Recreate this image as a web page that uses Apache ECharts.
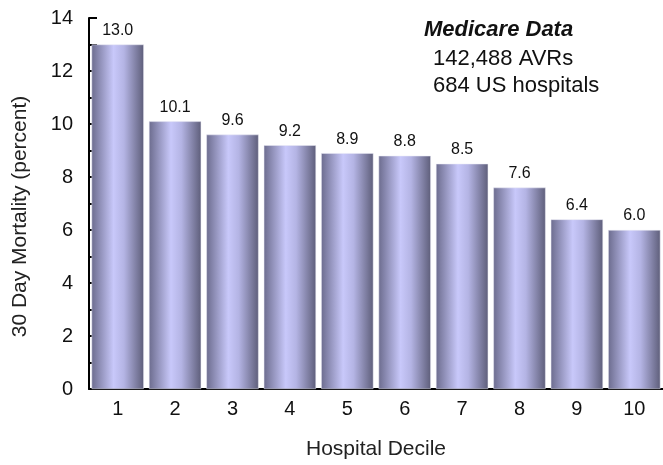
<!DOCTYPE html>
<html>
<head>
<meta charset="utf-8">
<script src="https://cdn.jsdelivr.net/npm/echarts@6/dist/echarts.min.js"></script>
<style>
  html, body { margin: 0; padding: 0; background: #fff; }
  #main { width: 663px; height: 465px; }
</style>
</head>
<body>
<div id="main"></div>
<script>
// hospital deciles and 30 day mortality (percent)
const deciles = ['1', '2', '3', '4', '5', '6', '7', '8', '9', '10'];
const mortality = [13.0, 10.1, 9.6, 9.2, 8.9, 8.8, 8.5, 7.6, 6.4, 6.0];
const noteLines = ['142,488 AVRs', '684 US hospitals'];

const font = 'Liberation Sans, Arial, sans-serif';

// bar shading: dark edges, light band a little left of centre
const barColor = new echarts.graphic.LinearGradient(0, 0, 1, 0, [
    { offset: 0, color: '#6c6c8e' },
    { offset: 0.42, color: '#c8c8fa' },
    { offset: 0.62, color: '#b4b4e4' },
    { offset: 1, color: '#5e5e7a' }
]);

const chart = echarts.init(document.getElementById('main'));
chart.setOption({
    backgroundColor: '#fff',
    animation: false,
    grid: { left: 89, right: -11, top: 18, bottom: 73 },
    xAxis: {
        type: 'category',
        data: deciles,
        name: 'Hospital Decile',
        nameLocation: 'middle',
        nameGap: 50,
        nameTextStyle: { fontFamily: font, fontSize: 21, color: '#222' },
        axisLine: { lineStyle: { color: '#000', width: 2 } },
        axisTick: { show: false },
        axisLabel: { fontFamily: font, fontSize: 20, color: '#111', margin: 10 }
    },
    yAxis: {
        type: 'value',
        min: 0,
        max: 14,
        interval: 2,
        name: '30 Day Mortality (percent)',
        nameLocation: 'middle',
        nameGap: 58,
        nameTextStyle: { fontFamily: font, fontSize: 21, color: '#222', padding: [0, 26, 0, 0] },
        axisLine: { show: true, lineStyle: { color: '#000', width: 2 } },
        axisTick: { show: true, inside: true, length: 8, lineStyle: { color: '#000', width: 2 } },
        minorTick: { show: true, splitNumber: 2, length: 8, lineStyle: { color: '#000', width: 2 } },
        splitLine: { show: false },
        axisLabel: { fontFamily: font, fontSize: 20, color: '#111', margin: 16 }
    },
    series: [{
        type: 'bar',
        data: mortality,
        barCategoryGap: '9%',
        itemStyle: { color: barColor, borderColor: '#e8e8f4', borderWidth: 0.5 },
        label: {
            show: true,
            position: 'top',
            distance: 6,
            fontFamily: font,
            fontSize: 16,
            color: '#111',
            formatter: p => p.value.toFixed(1)
        }
    }],
    graphic: [
        {
            type: 'text', left: 424, top: 19,
            style: { text: 'Medicare Data', font: 'italic bold 22px ' + font, fill: '#111' }
        },
        {
            type: 'text', left: 433, top: 45,
            style: { text: noteLines.join('\n'), font: '22px ' + font, fill: '#111', lineHeight: 27 }
        }
    ]
});
</script>
</body>
</html>
